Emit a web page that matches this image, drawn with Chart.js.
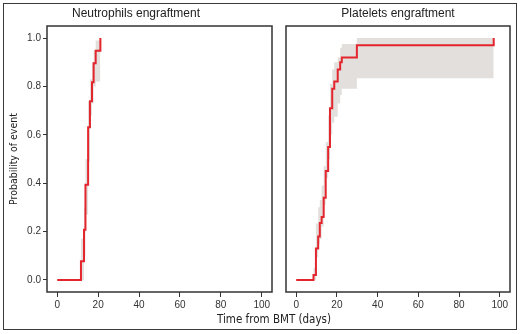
<!DOCTYPE html>
<html>
<head>
<meta charset="utf-8">
<script src="https://cdn.jsdelivr.net/npm/chart.js@4"></script>
<style>
  body { margin: 0; background: #fff; }
  #wrap { position: relative; width: 520px; height: 334px; }
  #frame { position: absolute; left: 3px; top: 3px; width: 514px; height: 327px;
           box-sizing: border-box; border: 1.5px solid #3a3a3a; }
  .box { position: absolute; top: 0; height: 334px; }
  #xtitle { position: absolute; left: 0; width: 548px; top: 312px; text-align: center;
            font-family: 'DejaVu Sans', sans-serif; font-stretch: condensed; font-size: 11.5px; color: #222; }
</style>
</head>
<body>
<div id="wrap">
  <div id="frame"></div>
  <div class="box" style="left:0;width:275px"><canvas id="neutroChart" width="275" height="334"></canvas></div>
  <div class="box" style="left:275px;width:245px"><canvas id="plateChart" width="245" height="334"></canvas></div>
  <div id="xtitle">Time from BMT (days)</div>
</div>
<script>
// neutrophils engraftment (days, cumulative probability, CI)
var neutroDays  = [0, 11.6, 13.1, 13.8, 15.1, 16.0, 17.0, 17.8, 18.8, 21.1];
var neutroProb  = [0, 0.077, 0.207, 0.393, 0.631, 0.739, 0.817, 0.896, 0.948, 1.0];
var neutroLower = [0, 0, 0.10, 0.27, 0.49, 0.68, 0.73, 0.80, 0.82, 1.0];
var neutroUpper = [0, 0.17, 0.30, 0.50, 0.74, 0.83, 0.90, 0.95, 0.99, 1.0];

// platelets engraftment
var plateDays  = [0, 8.5, 9.7, 10.8, 11.6, 12.5, 13.5, 14.5, 15.7, 16.6, 17.7, 18.7, 20.4, 21.6, 22.4, 29.8, 97];
var plateProb  = [0, 0.02, 0.13, 0.18, 0.235, 0.26, 0.34, 0.45, 0.55, 0.71, 0.79, 0.82, 0.87, 0.90, 0.92, 0.97, 1.0];
var plateLower = [0, 0, 0.094, 0.15, 0.17, 0.22, 0.31, 0.42, 0.50, 0.60, 0.65, 0.675, 0.73, 0.765, 0.79, 0.834, 0.834];
var plateUpper = [0, 0.05, 0.233, 0.30, 0.33, 0.39, 0.47, 0.57, 0.68, 0.81, 0.87, 0.90, 0.92, 0.96, 0.976, 1.0, 1.0];

var xTicks = [0, 20, 40, 60, 80, 100];
var yTicks = [0, 0.2, 0.4, 0.6, 0.8, 1.0];

var lineRed = '#e3262d';
var bandGrey = '#e3dfdd';
var axisCol = '#333';
var tickFont = { family: "'Liberation Sans', Arial, sans-serif", size: 10 };

function pts(xs, ys) {
  return xs.map(function (x, i) { return { x: x, y: ys[i] }; });
}

// box around plot area
var boxPlugin = {
  id: 'plotBox',
  afterDraw: function (chart) {
    var a = chart.chartArea, c = chart.ctx;
    c.save();
    c.strokeStyle = axisCol;
    c.lineWidth = 1.5;
    c.strokeRect(a.left, a.top, a.right - a.left, a.bottom - a.top);
    c.restore();
  }
};

function makeChart(id, title, xs, prob, lo, hi, showY, pad) {
  return new Chart(document.getElementById(id), {
    type: 'line',
    data: {
      datasets: [
        { data: pts(xs, prob), stepped: 'before', borderColor: lineRed, borderWidth: 2, pointRadius: 0, fill: false, order: 0 },
        { data: pts(xs, lo), stepped: 'before', borderWidth: 0, pointRadius: 0, fill: false, backgroundColor: bandGrey, order: 2 },
        { data: pts(xs, hi), stepped: 'before', borderWidth: 0, pointRadius: 0, fill: '-1', backgroundColor: bandGrey, order: 1 }
      ]
    },
    options: {
      responsive: false,
      animation: false,
      layout: { padding: pad },
      plugins: {
        legend: { display: false },
        tooltip: { enabled: false },
        title: {
          display: true, text: title, color: '#222',
          font: { family: "'Liberation Sans', Arial, sans-serif", size: 12, weight: 'normal', lineHeight: 1.1667 },
          padding: { top: 7, bottom: 5 }
        }
      },
      scales: {
        x: {
          type: 'linear', min: -5, max: 105,
          afterBuildTicks: function (s) { s.ticks = xTicks.map(function (v) { return { value: v }; }); },
          afterFit: function (s) { s.height = 42; },
          grid: { drawOnChartArea: false, drawTicks: true, tickLength: 5, color: axisCol, lineWidth: 1 },
          border: { display: false },
          ticks: { color: '#333', font: tickFont, padding: 2, maxRotation: 0 }
        },
        y: {
          type: 'linear', min: -0.05, max: 1.05, display: showY,
          afterBuildTicks: function (s) { s.ticks = yTicks.map(function (v) { return { value: v }; }); },
          afterFit: function (s) { s.width = showY ? 47 : 0; },
          grid: { drawOnChartArea: false, drawTicks: true, tickLength: 4, color: axisCol, lineWidth: 1 },
          border: { display: false },
          ticks: { color: '#333', font: tickFont, padding: 2, callback: function (v) { return v.toFixed(1); } },
          title: {
            display: true, text: 'Probability of event', color: '#222',
            font: { family: "'Liberation Sans Narrow', 'DejaVu Sans Condensed', sans-serif", size: 10.5 },
            padding: { top: 8, bottom: 0 }
          }
        }
      }
    },
    plugins: [boxPlugin]
  });
}

makeChart('neutroChart', 'Neutrophils engraftment', neutroDays, neutroProb, neutroLower, neutroUpper, true,
  { top: 0, left: 0, right: 3, bottom: 0 });
makeChart('plateChart', 'Platelets engraftment', plateDays, plateProb, plateLower, plateUpper, false,
  { top: 0, left: 11, right: 10, bottom: 0 });
</script>
</body>
</html>
